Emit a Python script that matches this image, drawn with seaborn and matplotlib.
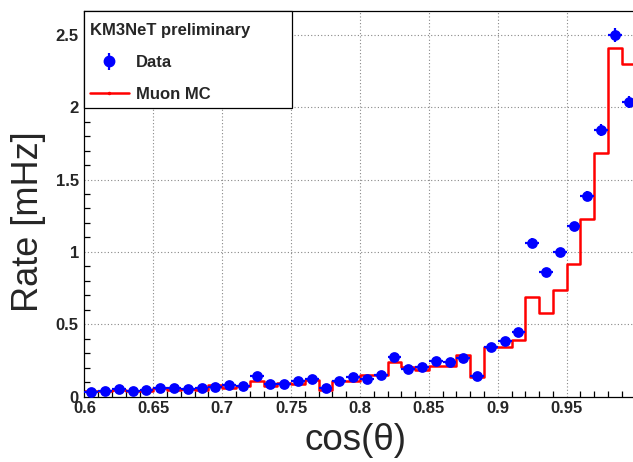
import numpy as np
import pandas as pd
import matplotlib
matplotlib.use("Agg")
import matplotlib.pyplot as plt
import seaborn as sns
from matplotlib.ticker import MultipleLocator, FixedLocator
from matplotlib.lines import Line2D
from matplotlib.patches import Rectangle

# ---- data ----
bin_edges = [round(0.60 + 0.01 * i, 2) for i in range(41)]
bin_centers = [round(0.605 + 0.01 * i, 3) for i in range(40)]

data_rate = [0.035, 0.039, 0.051, 0.041, 0.048, 0.062, 0.062, 0.053, 0.057, 0.069,
             0.081, 0.076, 0.143, 0.086, 0.090, 0.108, 0.120, 0.063, 0.108, 0.138,
             0.124, 0.150, 0.276, 0.193, 0.207, 0.249, 0.242, 0.268, 0.143, 0.341,
             0.387, 0.447, 1.064, 0.863, 0.999, 1.177, 1.386, 1.844, 2.500, 2.037]
data_err = [0.006, 0.006, 0.007, 0.006, 0.007, 0.008, 0.008, 0.007, 0.007, 0.008,
            0.009, 0.009, 0.012, 0.009, 0.009, 0.010, 0.011, 0.008, 0.010, 0.011,
            0.011, 0.012, 0.016, 0.013, 0.014, 0.015, 0.015, 0.016, 0.012, 0.018,
            0.019, 0.020, 0.031, 0.028, 0.030, 0.033, 0.036, 0.041, 0.048, 0.043]

mc_rate = [0.039, 0.039, 0.046, 0.042, 0.037, 0.062, 0.046, 0.053, 0.046, 0.083,
           0.058, 0.072, 0.106, 0.072, 0.097, 0.090, 0.115, 0.048, 0.110, 0.110,
           0.150, 0.148, 0.242, 0.203, 0.184, 0.214, 0.214, 0.290, 0.134, 0.343,
           0.343, 0.389, 0.691, 0.578, 0.737, 0.914, 1.227, 1.681, 2.410, 2.300]

x_ticks = [0.6, 0.65, 0.7, 0.75, 0.8, 0.85, 0.9, 0.95]
x_tick_labels = ["0.6", "0.65", "0.7", "0.75", "0.8", "0.85", "0.9", "0.95"]
y_ticks = [0, 0.5, 1, 1.5, 2, 2.5]
y_tick_labels = ["0", "0.5", "1", "1.5", "2", "2.5"]

df_data = pd.DataFrame({"cos": bin_centers, "rate": data_rate, "err": data_err})
df_mc = pd.DataFrame({"cos": bin_centers, "rate": mc_rate})

# ---- figure ----
sns.set_theme(style="white")
plt.rcParams["font.family"] = ["Liberation Sans", "DejaVu Sans"]

W, H = 633, 462
fig = plt.figure(figsize=(W / 100, H / 100), dpi=100)
left_px, right_px, top_px, bot_px = 84.4, 635.6, 11.0, 396.7
ax = fig.add_axes([left_px / W, (H - bot_px) / H,
                   (right_px - left_px) / W, (bot_px - top_px) / H])

# grid
for xv in x_ticks[1:]:
    ax.axvline(xv, color="#888888", lw=0.8, ls=(0, (1, 2)), zorder=0)
for yv in y_ticks[1:]:
    ax.axhline(yv, color="#888888", lw=0.8, ls=(0, (1, 2)), zorder=0)

# MC histogram
sns.histplot(data=df_mc, x="cos", weights="rate", bins=bin_edges,
             element="step", fill=False, color="red", linewidth=1.8,
             ax=ax, zorder=2)

# Data points
ax.errorbar(df_data["cos"], df_data["rate"], yerr=df_data["err"], xerr=0.005,
            fmt="none", ecolor="blue", elinewidth=1.6, capsize=0, zorder=3)
sns.scatterplot(data=df_data, x="cos", y="rate", color="blue", s=60,
                edgecolor="blue", linewidth=0, ax=ax, zorder=4, legend=False)

ax.set_xlim(0.6, 1.0)
ax.set_ylim(0, 2.664)

ax.xaxis.set_major_locator(FixedLocator(x_ticks))
ax.set_xticklabels(x_tick_labels)
ax.xaxis.set_minor_locator(MultipleLocator(0.01))
ax.yaxis.set_major_locator(FixedLocator(y_ticks))
ax.set_yticklabels(y_tick_labels)
ax.yaxis.set_minor_locator(MultipleLocator(0.1))

ax.tick_params(axis="both", which="major", direction="in", length=8, width=0.9,
               labelsize=12, color="black", top=False, right=False)
ax.tick_params(axis="both", which="minor", direction="in", length=4, width=0.9,
               color="black", top=False, right=False, left=True, bottom=True)
ax.tick_params(axis="x", which="major", pad=3)
ax.tick_params(axis="y", which="major", pad=4)
for lab in ax.get_xticklabels() + ax.get_yticklabels():
    lab.set_fontweight("bold")

for s in ax.spines.values():
    s.set_color("black")
    s.set_linewidth(0.9)

ax.set_xlabel("")
ax.set_ylabel("")
fig.text(356 / W, 1 - 441 / H, "cos(θ)", fontsize=26.5, ha="center", va="center")
fig.text(28.5 / W, 1 - 222 / H, "Rate [mHz]", fontsize=26, ha="center", va="center",
         rotation=90)

# legend frame (drawn manually in figure pixels)
leg_l, leg_t, leg_r, leg_b = 84.4, 11.0, 292.0, 107.5
fig.patches.append(Rectangle((leg_l / W, 1 - leg_b / H), (leg_r - leg_l) / W,
                             (leg_b - leg_t) / H, transform=fig.transFigure,
                             facecolor="white", edgecolor="black", lw=0.9,
                             zorder=9))

h_data = ax.errorbar([], [], yerr=[], fmt="o", color="blue", ms=7.5, elinewidth=1.6)
h_mc = Line2D([], [], color="red", lw=1.8, marker=".", ms=3)
leg = fig.legend([h_data, h_mc], ["Data", "Muon MC"], title="KM3NeT preliminary",
                 loc="upper left",
                 bbox_to_anchor=(leg_l / W, 1 - (leg_t + 6.5) / H),
                 bbox_transform=fig.transFigure,
                 borderaxespad=0, frameon=False, fontsize=12,
                 handlelength=2.3, handletextpad=0.45, labelspacing=1.0,
                 borderpad=0.35)
leg._legend_box.align = "left"
leg.get_title().set_fontweight("bold")
leg.get_title().set_fontsize(12)
for t in leg.get_texts():
    t.set_fontweight("bold")
leg.set_zorder(10)

fig.savefig("out.png", dpi=100)
